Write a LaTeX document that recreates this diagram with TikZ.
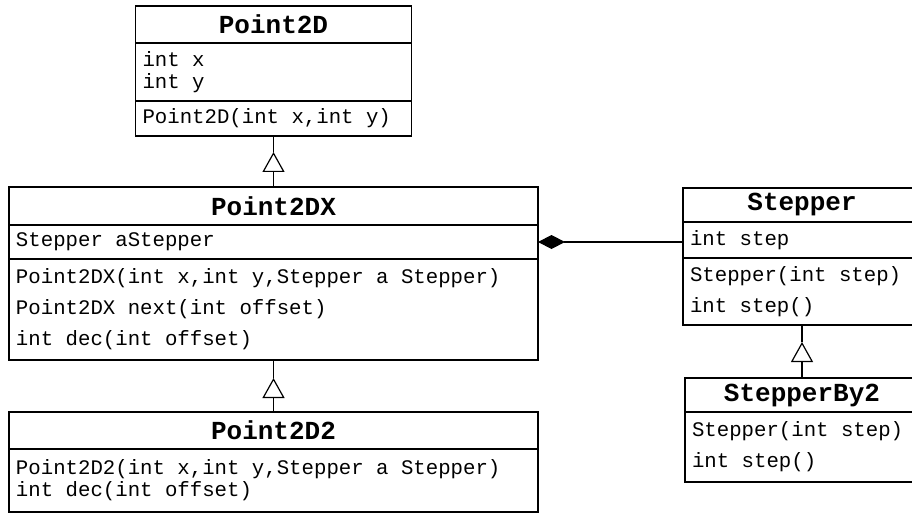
\documentclass[tikz,border=0pt]{standalone}
\usepackage{fontspec}
\setmonofont{Liberation Mono}
\usetikzlibrary{positioning,arrows.meta}

\begin{document}
\begin{tikzpicture}[x=1pt, y=1pt, node distance=0pt,
  part/.style={draw, line width=1.2pt, outer sep=0pt, inner xsep=7pt, inner ysep=2pt, anchor=north,
    align=left, font=\ttfamily\fontsize{20.7}{22}\selectfont,
    execute at begin node={\spaceskip=12.42pt\relax}},
  classname/.style={part, align=center, font=\ttfamily\bfseries\fontsize{26}{28}\selectfont},
  spaced/.style={font=\ttfamily\fontsize{20.7}{31}\selectfont},
  extends/.style={line width=1.2pt, -{Triangle[open, length=20pt, width=22pt]}},
  owns/.style={line width=1.2pt, {Diamond[length=27pt, width=14pt]}-}]
\clip (0,0) rectangle (912,-513);
% Point2D
\node[classname, text width=262pt, minimum height=37pt] (p2d) at (273.5,-6) {Point2D};
\node[part, text width=262pt, minimum height=58pt, below=of p2d] (p2da) {int x\\int y};
\node[part, text width=262pt, minimum height=35pt, below=of p2da] (p2dm) {Point2D(int x,int y)};
% Point2DX
\node[classname, text width=515pt, minimum height=38pt, below=51pt of p2dm] (p2dx) {Point2DX};
\node[part, text width=515pt, minimum height=34pt, below=of p2dx] (p2dxa) {Stepper aStepper};
\node[part, spaced, text width=515pt, minimum height=101pt, below=of p2dxa] (p2dxm)
  {Point2DX(int x,int y,Stepper a Stepper)\\Point2DX next(int offset)\\int dec(int offset)};
% Point2D2
\node[classname, text width=515pt, minimum height=37pt, below=52pt of p2dxm] (p2d2) {Point2D2};
\node[part, text width=515pt, minimum height=63pt, below=of p2d2] (p2d2m)
  {Point2D2(int x,int y,Stepper a Stepper)\\int dec(int offset)};
% Stepper
\node[classname, text width=224pt, minimum height=34pt] (stp) at (802,-188) {Stepper};
\node[part, text width=224pt, minimum height=36pt, below=of stp] (stpa) {int step};
\node[part, spaced, text width=224pt, minimum height=67pt, below=of stpa] (stpm) {Stepper(int step)\\int step()};
% StepperBy2
\node[classname, text width=220pt, minimum height=34pt, below=53pt of stpm] (stp2) {StepperBy2};
\node[part, spaced, text width=220pt, minimum height=70pt, below=of stp2] (stp2m) {Stepper(int step)\\int step()};

\draw[extends] (p2dx.north) -- ([yshift=-16pt]p2dm.south) coordinate (t1);
\draw[line width=1.2pt] (t1) -- (p2dm.south);
\draw[extends] (p2d2.north) -- ([yshift=-18pt]p2dxm.south) coordinate (t2);
\draw[line width=1.2pt] (t2) -- (p2dxm.south);
\draw[extends] (stp2.north) -- ([yshift=-17pt]stpm.south) coordinate (t3);
\draw[line width=1.2pt] (t3) -- (stpm.south);
\draw[owns] (p2dxa.east) -- (p2dxa.east -| stpa.west);
\end{tikzpicture}
\end{document}
